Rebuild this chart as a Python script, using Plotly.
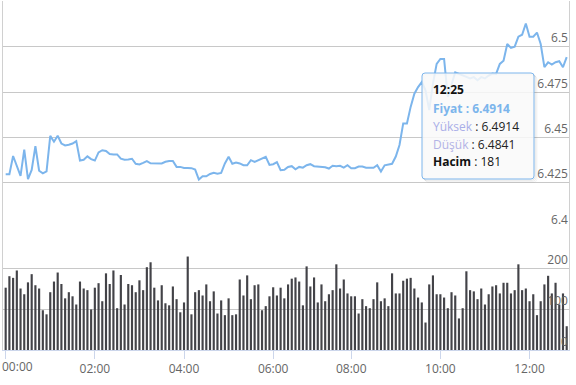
import plotly.graph_objects as go

# ---------------- data ----------------
# 5-minute bars from 00:00 to 12:50; three slots between 06:00 and 08:00 have no data
MISSING = ["06:55", "07:00", "07:05"]
times = [f"{h:02d}:{m:02d}" for h in range(0, 13) for m in range(0, 60, 5)]
times = [t for t in times if t not in MISSING and t <= "12:50"]

price = [
    6.4297, 6.4297, 6.4397, 6.4344, 6.4288, 6.4432, 6.4269, 6.4320, 6.4451, 6.4316,
    6.4301, 6.4312, 6.4508, 6.4476, 6.4509, 6.4466, 6.4455, 6.4459, 6.4466, 6.4479,
    6.4372, 6.4376, 6.4395, 6.4380, 6.4372, 6.4417, 6.4429, 6.4425, 6.4408, 6.4406,
    6.4406, 6.4382, 6.4376, 6.4378, 6.4382, 6.4354, 6.4350, 6.4359, 6.4369, 6.4357,
    6.4357, 6.4359, 6.4356, 6.4365, 6.4370, 6.4370, 6.4337, 6.4337, 6.4331, 6.4331,
    6.4330, 6.4322, 6.4267, 6.4285, 6.4285, 6.4298, 6.4304, 6.4300, 6.4304, 6.4356,
    6.4393, 6.4354, 6.4361, 6.4356, 6.4346, 6.4346, 6.4374, 6.4365, 6.4374, 6.4383,
    6.4393, 6.4348, 6.4352, 6.4363, 6.4319, 6.4321, 6.4337, 6.4341, 6.4324, 6.4337,
    6.4333, 6.4346, 6.4352, 6.4341, 6.4339, 6.4337, 6.4335, 6.4328, 6.4343, 6.4341,
    6.4343, 6.4333, 6.4346, 6.4330, 6.4330, 6.4339, 6.4339, 6.4332, 6.4332, 6.4332,
    6.4346, 6.4311, 6.4346, 6.4348, 6.4354, 6.4394, 6.4458, 6.4577, 6.4577, 6.4668,
    6.4741, 6.4777, 6.4805, 6.4759, 6.4650, 6.4796, 6.4905, 6.4932, 6.4932, 6.4723,
    6.4796, 6.4859, 6.4850, 6.4841, 6.4832, 6.4825, 6.4832, 6.4815, 6.4832, 6.4825,
    6.4841, 6.4852, 6.4850, 6.4905, 6.4923, 6.5015, 6.4993, 6.5000, 6.5055, 6.5066,
    6.5128, 6.5055, 6.5055, 6.5078, 6.5015, 6.4887, 6.4914, 6.4901, 6.4914, 6.4920,
    6.4887, 6.4942,
]

volume = [
    152, 180, 176, 194, 150, 136, 165, 185, 158, 150,
    97, 87, 141, 167, 189, 161, 126, 141, 131, 111,
    167, 150, 146, 99, 152, 163, 119, 187, 161, 194,
    102, 183, 111, 161, 158, 141, 170, 146, 202, 214,
    152, 121, 158, 114, 109, 155, 124, 92, 116, 228,
    87, 141, 146,
    133, 160, 119, 143, 89, 121, 85, 126, 85, 87,
    172, 133, 182, 124, 158, 160, 97, 107, 131, 153,
    133, 152, 126, 160, 174, 177, 167, 109, 204, 155,
    177, 116, 160, 119, 136, 146, 209, 150, 172, 138,
    131, 131, 89, 124, 107, 102, 124, 165, 119, 126,
    107, 187, 138,
    138, 169, 174, 176, 150, 128, 116, 67, 160, 182, 136, 136,
    128, 102, 141, 133, 77, 102, 192, 146, 143, 124, 150, 111,
    136, 155, 158, 138, 164, 164, 138, 146, 209, 146, 150, 119,
    136, 85, 119, 160, 181, 138, 164, 111, 138, 58,
]

x_ticks = ["00:00", "02:00", "04:00", "06:00", "08:00", "10:00", "12:00"]
price_ticks = [6.4, 6.425, 6.45, 6.475, 6.5]
price_tick_text = ["6.4", "6.425", "6.45", "6.475", "6.5"]
vol_ticks = [0, 100, 200]

tip_time = "12:25"
tip_price = "6.4914"
tip_high = "6.4914"
tip_low = "6.4841"
tip_vol = "181"

# ---------------- layout helpers ----------------
W, H = 576, 385
FONT = "Open Sans"


def px(x):
    return x / W


def py(y):
    return 1 - y / H


def rounded_rect(x0, y0, x1, y1, r):
    rx, ry = r / W, r / H
    X0, X1 = px(x0), px(x1)
    Y0, Y1 = py(y0), py(y1)  # Y0 top, Y1 bottom
    return (f"M {X0 + rx},{Y0} L {X1 - rx},{Y0} Q {X1},{Y0} {X1},{Y0 - ry} "
            f"L {X1},{Y1 + ry} Q {X1},{Y1} {X1 - rx},{Y1} "
            f"L {X0 + rx},{Y1} Q {X0},{Y1} {X0},{Y1 + ry} "
            f"L {X0},{Y0 - ry} Q {X0},{Y0} {X0 + rx},{Y0} Z")


fig = go.Figure()

fig.add_trace(go.Bar(
    x=times, y=volume, xaxis="x", yaxis="y",
    marker=dict(color="#434348", line=dict(width=0)),
    hoverinfo="skip", showlegend=False,
))

fig.add_trace(go.Scatter(
    x=times, y=price, xaxis="x2", yaxis="y2", mode="lines",
    line=dict(color="#7cb5ec", width=2),
    hoverinfo="skip", showlegend=False,
))

n = len(times)
xdom = [px(3), px(569)]
xrange = [-0.72, n - 1 + 0.62]

fig.update_layout(
    width=W, height=H,
    margin=dict(l=0, r=0, t=0, b=0),
    paper_bgcolor="white", plot_bgcolor="white",
    font=dict(family=FONT, size=12, color="#666666"),
    bargap=0.42,
    showlegend=False,
    xaxis=dict(
        type="category", domain=xdom, range=xrange, anchor="y",
        tickmode="array", tickvals=x_ticks, ticktext=[""] + x_ticks[1:],
        ticks="outside", ticklen=8, tickcolor="#ccd6eb", tickwidth=1,
        showline=True, linecolor="#ccd6eb", linewidth=1,
        showgrid=False, zeroline=False,
        tickfont=dict(size=12, color="#666666", family=FONT),
    ),
    xaxis2=dict(
        type="category", domain=xdom, range=xrange, anchor="y2", matches="x",
        showticklabels=False, ticks="", showgrid=False, showline=False, zeroline=False,
    ),
    yaxis=dict(
        domain=[py(350), py(228)], range=[0, 297.6], side="right",
        tickmode="array", tickvals=vol_ticks,
        ticklabelposition="inside top", ticks="",
        gridcolor="#c8c8c8", gridwidth=1, zeroline=False,
        showline=True, mirror=True, linecolor="#d0d0d0",
        tickfont=dict(size=12, color="#666666", family=FONT),
    ),
    yaxis2=dict(
        domain=[py(228), py(1)], range=[6.4, 6.5252], side="right",
        tickmode="array", tickvals=price_ticks, ticktext=price_tick_text,
        ticklabelposition="inside top", ticks="",
        gridcolor="#c8c8c8", gridwidth=1, zeroline=False,
        showline=True, mirror=True, linecolor="#d0d0d0",
        tickfont=dict(size=12, color="#666666", family=FONT),
    ),
)

# first x label is justified to the left edge
fig.add_annotation(
    x=px(0), y=py(366), xref="paper", yref="paper",
    text=x_ticks[0], showarrow=False, xanchor="left", yanchor="middle",
    font=dict(size=12, color="#666666", family=FONT),
)

# tooltip box with light shadow
for k, a in [(3, 0.04), (2, 0.06), (1, 0.09)]:
    fig.add_shape(type="path", xref="paper", yref="paper",
                  path=rounded_rect(422 + k, 73 + k, 534 + k, 179 + k, 3),
                  line=dict(color=f"rgba(0,0,0,{a})", width=1),
                  fillcolor="rgba(0,0,0,0)", layer="above")
fig.add_shape(type="path", xref="paper", yref="paper",
              path=rounded_rect(422, 73, 534, 179, 3),
              line=dict(color="#7cb5ec", width=1),
              fillcolor="rgba(249,249,249,0.86)", layer="above")

tip_lines = [
    (90, f"<b>{tip_time}</b>", "#111111"),
    (108.3, f"<b>Fiyat : {tip_price}</b>", "#7cb5ec"),
    (126, f"<span style='color:#a9aee8'>Yüksek</span> : {tip_high}", "#222222"),
    (144, f"<span style='color:#b3b3e6'>Düşük</span> : {tip_low}", "#222222"),
    (161.7, f"<b>Hacim</b> : {tip_vol}", "#111111"),
]
for yy, txt, col in tip_lines:
    fig.add_annotation(
        x=px(430.5), y=py(yy), xref="paper", yref="paper",
        text=txt, showarrow=False, xanchor="left", yanchor="middle",
        font=dict(size=12, color=col, family=FONT),
    )

fig.write_html("out.html")
